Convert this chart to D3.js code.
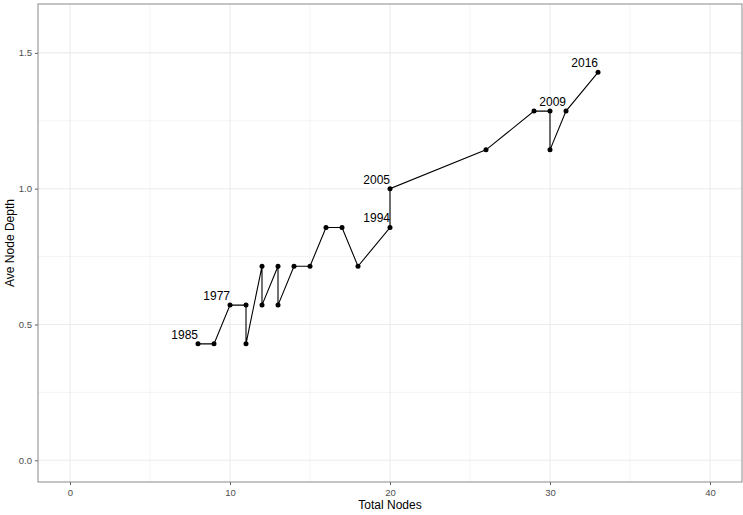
<!DOCTYPE html>
<html>
<head>
<meta charset="utf-8">
<script src="https://cdn.jsdelivr.net/npm/d3@7"></script>
<style>
  html, body { margin: 0; padding: 0; background: #fff; }
  svg { display: block; font-family: "Liberation Sans", Arial, Helvetica, sans-serif; }
</style>
</head>
<body>
<svg id="chart" width="743" height="515"></svg>
<script>
// ---- data ----
const totalNodes = [8, 9, 10, 11, 11, 12, 12, 13, 13, 14, 15, 16, 17, 18, 20, 20, 26, 29, 30, 30, 31, 33];
const aveNodeDepth = [0.4286, 0.4286, 0.5714, 0.5714, 0.4286, 0.7143, 0.5714, 0.7143, 0.5714, 0.7143, 0.7143,
                      0.8571, 0.8571, 0.7143, 0.8571, 1.0, 1.1429, 1.2857, 1.2857, 1.1429, 1.2857, 1.4286];
const labelYears = ["1985", "1977", "1994", "2005", "2009", "2016"];
const labelX = [8, 10, 20, 20, 31, 33];
const labelY = [0.4286, 0.5714, 0.8571, 1.0, 1.2857, 1.4286];
const xTicks = [0, 10, 20, 30, 40];
const xMinor = [5, 15, 25, 35];
const yTicks = [0.0, 0.5, 1.0, 1.5];
const yMinor = [0.25, 0.75, 1.25];

// ---- layout ----
const svg = d3.select("#chart");
const pLeft = 38, pRight = 742, pTop = 4, pBottom = 482;
const x = d3.scaleLinear().domain([-2, 42]).range([pLeft, pRight]);
const y = d3.scaleLinear().domain([-0.08, 1.68]).range([pBottom, pTop]);

const grid = svg.append("g");
grid.selectAll(".gxm").data(xMinor).join("line")
  .attr("x1", d => x(d)).attr("x2", d => x(d)).attr("y1", pTop).attr("y2", pBottom)
  .attr("stroke", "#f0f0f0").attr("stroke-width", 0.8);
grid.selectAll(".gym").data(yMinor).join("line")
  .attr("y1", d => y(d)).attr("y2", d => y(d)).attr("x1", pLeft).attr("x2", pRight)
  .attr("stroke", "#f0f0f0").attr("stroke-width", 0.8);
grid.selectAll(".gx").data(xTicks).join("line")
  .attr("x1", d => x(d)).attr("x2", d => x(d)).attr("y1", pTop).attr("y2", pBottom)
  .attr("stroke", "#ebebeb").attr("stroke-width", 1.1);
grid.selectAll(".gy").data(yTicks).join("line")
  .attr("y1", d => y(d)).attr("y2", d => y(d)).attr("x1", pLeft).attr("x2", pRight)
  .attr("stroke", "#ebebeb").attr("stroke-width", 1.1);

// ---- axes ----
const xAxis = svg.append("g").attr("transform", `translate(0,${pBottom})`)
  .call(d3.axisBottom(x).tickValues(xTicks).tickSize(3).tickPadding(4).tickFormat(d3.format("d")));
const yAxis = svg.append("g").attr("transform", `translate(${pLeft},0)`)
  .call(d3.axisLeft(y).tickValues(yTicks).tickSize(3).tickPadding(3).tickFormat(d3.format(".1f")));
[xAxis, yAxis].forEach(a => {
  a.select(".domain").remove();
  a.selectAll(".tick line").attr("stroke", "#333").attr("stroke-width", 0.8);
  a.selectAll(".tick text").attr("fill", "#4d4d4d").style("font-size", "9.5px")
    .style("font-family", '"Liberation Sans", Arial, sans-serif');
});

// ---- panel border ----
svg.append("rect").attr("x", pLeft).attr("y", pTop).attr("width", pRight - pLeft).attr("height", pBottom - pTop)
  .attr("fill", "none").attr("stroke", "#8a8a8a").attr("stroke-width", 1);

// ---- line & points ----
const pts = totalNodes.map((v, i) => [v, aveNodeDepth[i]]);
svg.append("path").datum(pts)
  .attr("d", d3.line().x(d => x(d[0])).y(d => y(d[1])))
  .attr("fill", "none").attr("stroke", "#000").attr("stroke-width", 1.1);
svg.selectAll(".pt").data(pts).join("circle")
  .attr("cx", d => x(d[0])).attr("cy", d => y(d[1])).attr("r", 2.5).attr("fill", "#000");

// ---- labels ----
svg.selectAll(".lbl").data(labelYears).join("text")
  .attr("x", (d, i) => x(labelX[i]))
  .attr("y", (d, i) => y(labelY[i]) - 5)
  .attr("text-anchor", "end")
  .style("font-size", "12px").attr("fill", "#000")
  .text(d => d);

// ---- axis titles ----
svg.append("text").attr("x", (pLeft + pRight) / 2).attr("y", 508.5).attr("text-anchor", "middle")
  .style("font-size", "12px").attr("fill", "#000").text("Total Nodes");
svg.append("text").attr("transform", `translate(14,${(pTop + pBottom) / 2}) rotate(-90)`)
  .attr("text-anchor", "middle").style("font-size", "12px").attr("fill", "#000").text("Ave Node Depth");
</script>
</body>
</html>
